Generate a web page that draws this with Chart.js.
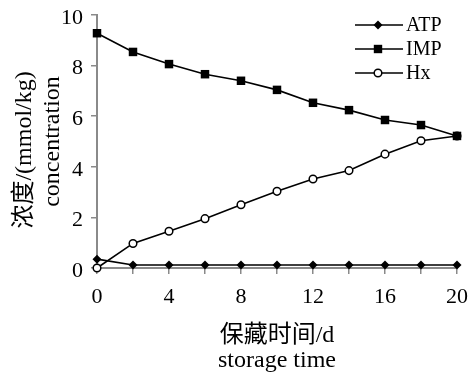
<!DOCTYPE html>
<html>
<head>
<meta charset="utf-8">
<script src="https://cdn.jsdelivr.net/npm/chart.js"></script>
<style>
  html, body { margin: 0; padding: 0; background: #fff; }
  #wrap { width: 475px; height: 374px; }
</style>
</head>
<body>
<div id="wrap"><canvas id="chart" width="475" height="374"></canvas></div>
<script>
// storage days
const days = [0, 2, 4, 6, 8, 10, 12, 14, 16, 18, 20]
// concentrations, mmol/kg
const atp = [0.35, 0.12, 0.12, 0.12, 0.12, 0.12, 0.12, 0.12, 0.12, 0.12, 0.12]
const imp = [9.28, 8.54, 8.06, 7.66, 7.4, 7.04, 6.53, 6.24, 5.85, 5.65, 5.22]
const hx = [0, 0.97, 1.45, 1.95, 2.5, 3.03, 3.52, 3.85, 4.5, 5.03, 5.22]

const seriesNames = ['ATP', 'IMP', 'Hx']
// trailing spaces nudge the first line down a bit, as in the original
const yTitle = ['浓度/(mmol/kg)\u2002\u2009', 'concentration']
const xTitle = ['保藏时间/d', 'storage time']
const xLabelled = [0, 4, 8, 12, 16, 20]

const serif = "'Liberation Serif', 'Times New Roman', 'Noto Sans CJK SC', serif"
const axisGrey = '#8a8a8a'

const toPoints = (vals) => days.map((d, i) => ({ x: d, y: vals[i] }))

// draws a marker the same way for the legend
function marker(ctx, style, x, y) {
  ctx.save()
  ctx.fillStyle = '#000'
  ctx.strokeStyle = '#000'
  ctx.lineWidth = 1.5
  ctx.beginPath()
  if (style === 'rectRot') {
    ctx.moveTo(x, y - 4.5); ctx.lineTo(x + 4.5, y); ctx.lineTo(x, y + 4.5); ctx.lineTo(x - 4.5, y)
    ctx.closePath(); ctx.fill()
  } else if (style === 'rect') {
    ctx.rect(x - 4.2, y - 4.2, 8.4, 8.4); ctx.fill()
  } else {
    ctx.arc(x, y, 3.8, 0, Math.PI * 2); ctx.fillStyle = '#fff'; ctx.fill(); ctx.stroke()
  }
  ctx.restore()
}

// legend with line + marker, top right
const lineLegend = {
  id: 'lineLegend',
  afterDraw(chart) {
    const ctx = chart.ctx
    const rows = [25, 49, 73]
    chart.data.datasets.forEach((ds, i) => {
      const y = rows[i]
      ctx.save()
      ctx.strokeStyle = '#000'
      ctx.lineWidth = 1.6
      ctx.beginPath()
      ctx.moveTo(355, y); ctx.lineTo(403, y)
      ctx.stroke()
      ctx.restore()
      marker(ctx, ds.pointStyle, 378, y)
      ctx.save()
      ctx.fillStyle = '#000'
      ctx.font = '20px ' + serif
      ctx.textBaseline = 'middle'
      ctx.fillText(ds.label, 406, y + 1)
      ctx.restore()
    })
  }
}

const common = {
  borderColor: '#000',
  borderWidth: 1.6,
  pointBorderColor: '#000',
  pointBorderWidth: 1.5,
  tension: 0,
  clip: false
}

new Chart(document.getElementById('chart'), {
  type: 'line',
  data: {
    datasets: [
      { ...common, label: seriesNames[0], data: toPoints(atp), pointStyle: 'rectRot', pointRadius: 4.5, pointBackgroundColor: '#000', pointBorderWidth: 0 },
      { ...common, label: seriesNames[1], data: toPoints(imp), pointStyle: 'rect', pointRadius: 6, pointBackgroundColor: '#000', pointBorderWidth: 0 },
      { ...common, label: seriesNames[2], data: toPoints(hx), pointStyle: 'circle', pointRadius: 3.8, pointBackgroundColor: '#fff' }
    ]
  },
  options: {
    responsive: false,
    animation: false,
    events: [],
    layout: { autoPadding: false, padding: { top: 15, right: 18, bottom: 0, left: 0 } },
    plugins: { legend: { display: false }, tooltip: { enabled: false } },
    scales: {
      x: {
        type: 'linear',
        min: 0,
        max: 20,
        afterFit: (s) => { s.height = 106; s.paddingLeft = 0; s.paddingRight = 0 },
        ticks: {
          stepSize: 2,
          autoSkip: false,
          maxRotation: 0,
          padding: 10,
          color: '#000',
          font: { family: serif, size: 22 },
          callback: (v) => (xLabelled.includes(v) ? String(v) : '')
        },
        grid: { display: true, drawOnChartArea: false, drawTicks: true, tickLength: 6, color: axisGrey, lineWidth: 1.5 },
        border: { display: true, color: axisGrey, width: 2 },
        title: {
          display: true,
          text: xTitle,
          color: '#000',
          font: { family: serif, size: 24, lineHeight: 1.04 },
          padding: { top: 0, bottom: 1 }
        }
      },
      y: {
        min: 0,
        max: 10,
        afterFit: (s) => { s.width = 97; s.paddingTop = 0; s.paddingBottom = 0 },
        ticks: {
          stepSize: 2,
          padding: 8,
          labelOffset: 3,
          color: '#000',
          font: { family: serif, size: 22 }
        },
        grid: { display: true, drawOnChartArea: false, drawTicks: true, tickLength: 6, color: axisGrey, lineWidth: 1.5 },
        border: { display: true, color: axisGrey, width: 2 },
        title: {
          display: true,
          text: yTitle,
          color: '#000',
          font: { family: serif, size: 24, lineHeight: 1.2 },
          padding: { top: 10, bottom: 0 }
        }
      }
    }
  },
  plugins: [lineLegend]
})
</script>
</body>
</html>
